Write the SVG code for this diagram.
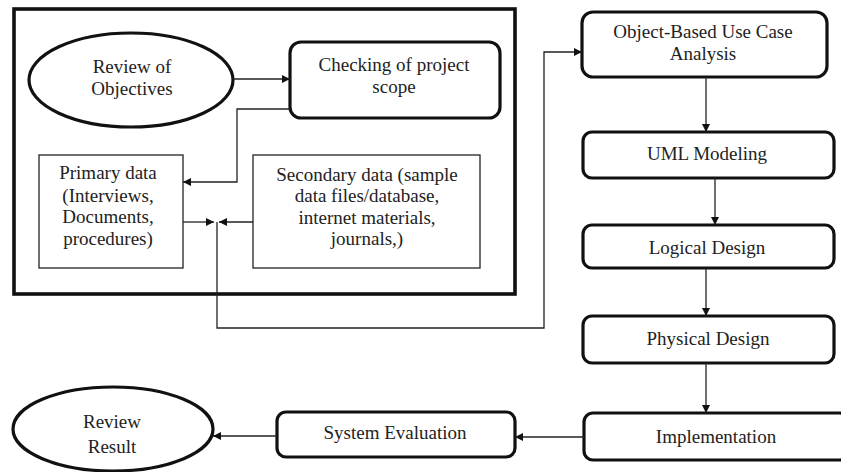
<svg xmlns="http://www.w3.org/2000/svg" width="841" height="472" viewBox="0 0 841 472">
<style>
text{font-family:"Liberation Serif","Times New Roman",serif;font-size:19px;fill:#222;text-anchor:middle}
.bold{fill:#fff;stroke:#111;stroke-width:3.2}
.thin{fill:#fff;stroke:#222;stroke-width:1.3}
.con{fill:none;stroke:#222;stroke-width:1.3}
</style>
<defs>
<marker id="ah" viewBox="0 0 10 10" refX="10" refY="5" markerWidth="8" markerHeight="8" markerUnits="userSpaceOnUse" orient="auto">
<path d="M0,0 L10,5 L0,10 z" fill="#111"/>
</marker>
</defs>
<rect id="frame" x="14" y="9" width="501" height="285" fill="none" stroke="#111" stroke-width="3.6"/>
<g id="review-objectives">
<ellipse class="bold" cx="131" cy="80" rx="102" ry="47"/>
<text x="132" y="73">Review of</text>
<text x="132" y="95">Objectives</text>
</g>
<g id="checking-scope">
<rect class="bold" x="290" y="42" width="210" height="76" rx="11"/>
<text x="394" y="71">Checking of project</text>
<text x="394" y="93">scope</text>
</g>
<g id="primary-data">
<rect class="thin" x="39" y="155" width="144" height="113"/>
<text x="108" y="179">Primary data</text>
<text x="108" y="202">(Interviews,</text>
<text x="108" y="223">Documents,</text>
<text x="108" y="245">procedures)</text>
</g>
<g id="secondary-data">
<rect class="thin" x="253" y="155" width="227" height="113"/>
<text x="367" y="181">Secondary data (sample</text>
<text x="367" y="202">data files/database,</text>
<text x="367" y="224">internet materials,</text>
<text x="367" y="245">journals,)</text>
</g>
<g id="object-analysis">
<rect class="bold" x="582" y="12" width="245" height="65" rx="11"/>
<text x="703" y="38">Object-Based Use Case</text>
<text x="703" y="60">Analysis</text>
</g>
<g id="uml-modeling">
<rect class="bold" x="583" y="132" width="251" height="46" rx="9"/>
<text x="707" y="160">UML Modeling</text>
</g>
<g id="logical-design">
<rect class="bold" x="583" y="225" width="251" height="43" rx="9"/>
<text x="707" y="254">Logical Design</text>
</g>
<g id="physical-design">
<rect class="bold" x="583" y="316" width="251" height="47" rx="9"/>
<text x="708" y="345">Physical Design</text>
</g>
<g id="implementation">
<rect class="bold" x="584" y="413" width="264" height="47" rx="9"/>
<text x="716" y="443">Implementation</text>
</g>
<g id="system-evaluation">
<rect class="bold" x="277" y="412" width="238" height="45" rx="9"/>
<text x="395" y="439">System Evaluation</text>
</g>
<g id="review-result">
<ellipse class="bold" cx="113" cy="429" rx="100" ry="42"/>
<text x="112" y="428">Review</text>
<text x="112" y="453">Result</text>
</g>
<g id="connectors">
<path class="con" d="M233,79 H290" marker-end="url(#ah)"/>
<path class="con" d="M290,109 H237 V182 H183" marker-end="url(#ah)"/>
<path class="con" d="M183,222 H214" marker-end="url(#ah)"/>
<path class="con" d="M253,222 H219" marker-end="url(#ah)"/>
<path class="con" d="M217,222 V328 H544 V52 H582" marker-end="url(#ah)"/>
<path class="con" d="M706,77 V132" marker-end="url(#ah)"/>
<path class="con" d="M715,178 V225" marker-end="url(#ah)"/>
<path class="con" d="M706,268 V316" marker-end="url(#ah)"/>
<path class="con" d="M706,363 V413" marker-end="url(#ah)"/>
<path class="con" d="M584,437 H515" marker-end="url(#ah)"/>
<path class="con" d="M277,436 H213" marker-end="url(#ah)"/>
</g>
</svg>
